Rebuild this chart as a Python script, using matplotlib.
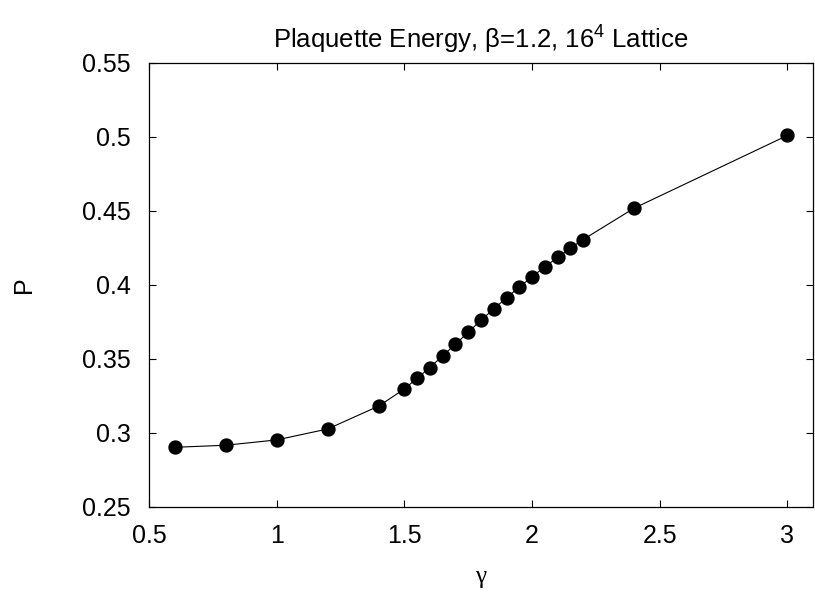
import matplotlib
matplotlib.use("Agg")
import matplotlib.pyplot as plt

gamma = [0.6, 0.8, 1.0, 1.2, 1.4, 1.5, 1.55, 1.6, 1.65, 1.7, 1.75, 1.8, 1.85,
         1.9, 1.95, 2.0, 2.05, 2.1, 2.15, 2.2, 2.4, 3.0]
plaq = [0.2903, 0.2917, 0.2953, 0.3027, 0.3182, 0.3297, 0.3370, 0.3441,
        0.3522, 0.3599, 0.3680, 0.3761, 0.3838, 0.3912, 0.3986, 0.4054,
        0.4122, 0.4185, 0.4248, 0.4306, 0.4518, 0.5009]
xticks = [0.5, 1, 1.5, 2, 2.5, 3]
xticklabels = ["0.5", "1", "1.5", "2", "2.5", "3"]
yticks = [0.25, 0.3, 0.35, 0.4, 0.45, 0.5, 0.55]
yticklabels = ["0.25", "0.3", "0.35", "0.4", "0.45", "0.5", "0.55"]

plt.rcParams['font.family'] = ['Liberation Sans', 'DejaVu Sans']
plt.rcParams['mathtext.fontset'] = 'custom'
plt.rcParams['mathtext.rm'] = 'Liberation Sans'
plt.rcParams['mathtext.it'] = 'Liberation Sans'

fig = plt.figure(figsize=(8.15, 5.92), dpi=100)
ax = fig.add_axes([149/815, 1-507/592, (813-149)/815, (507-62.7)/592])

ax.plot(gamma, plaq, color='black', lw=0.8, marker='o', markersize=9.3,
        markerfacecolor='black', markeredgecolor='black')

ax.set_xlim(0.5, 3.1)
ax.set_ylim(0.25, 0.55)
ax.set_xticks(xticks)
ax.set_xticklabels(xticklabels)
ax.set_yticks(yticks)
ax.set_yticklabels(yticklabels)
ax.tick_params(direction='in', length=5, width=0.8, top=True, right=True,
               labelsize=18, pad=12)
ax.tick_params(axis='y', pad=13)
for s in ax.spines.values():
    s.set_linewidth(0.9)

ax.set_title("Plaquette Energy, \u03b2=1.2, 16$^{4}$ Lattice", fontsize=18.5, pad=10)
ax.set_xlabel("\u03b3", fontsize=18, family=['Liberation Serif', 'DejaVu Serif'], labelpad=13)
ax.set_ylabel("P", fontsize=18, labelpad=33)

fig.savefig("out.png", dpi=100)
